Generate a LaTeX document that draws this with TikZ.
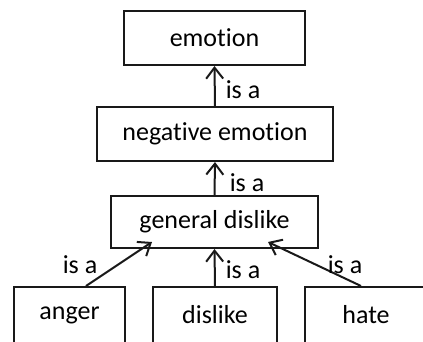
\documentclass[tikz,border=0pt]{standalone}
\usepackage{fontspec}
\setmainfont[Ligatures={NoCommon}]{Carlito}
\usetikzlibrary{arrows.meta}
\begin{document}
\begin{tikzpicture}[x=1pt,y=-1pt,
  box/.style={draw=black!90,line width=2pt,inner sep=0pt,minimum height=54pt,font=\fontsize{26}{30}\selectfont,text=black},
  lbl/.style={font=\fontsize{26}{30}\selectfont,inner sep=0pt,text=black},
  isa/.style={draw=black!90,line width=2pt,-{Straight Barb[length=11pt,width=17pt,line width=2pt]}}]
\useasboundingbox (0,0) rectangle (423,341);
\node[box,minimum width=181pt] (emo) at (214.5,38) {emotion};
\node[box,minimum width=236pt] (neg) at (215,134) {negative emotion};
\node[box,minimum width=207pt,minimum height=52pt] (gen) at (214.5,222) {general dislike};
\node[box,minimum width=111pt,minimum height=56pt] (ang) at (69.5,315) {anger};
\node[box,minimum width=124pt,minimum height=56pt] (dis) at (215,315) {dislike};
\node[box,minimum width=122pt,minimum height=56pt] (hat) at (366,315) {hate};
\draw[isa] (neg.north) -- (emo.south);
\draw[isa] (gen.north) -- (neg.south);
\draw[isa] (dis.north) -- (gen.south);
\draw[isa] ([xshift=16.5pt]ang.north) -- ([xshift=-62.5pt,yshift=7pt]gen.south);
\draw[isa] ([xshift=-5pt]hat.north) -- ([xshift=53.5pt,yshift=7pt]gen.south);
\node[lbl] (l1) at (243,90) {is a};
\node[lbl] (l2) at (247,183) {is a};
\node[lbl] (l3) at (80,265) {is a};
\node[lbl] (l4) at (243,270) {is a};
\node[lbl] (l5) at (345,265) {is a};
\end{tikzpicture}
\end{document}
